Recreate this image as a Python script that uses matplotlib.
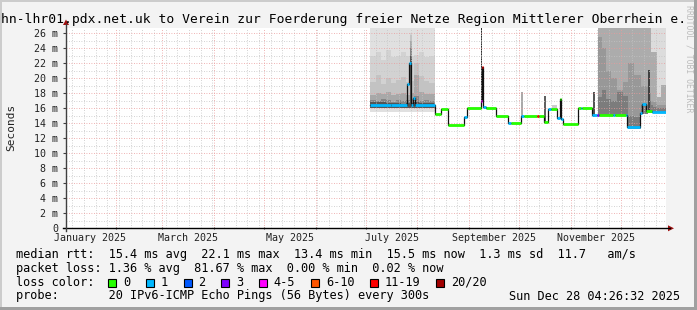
import numpy as np
import pandas as pd
import matplotlib
matplotlib.use("Agg")
import matplotlib.pyplot as plt
from matplotlib.lines import Line2D
from matplotlib.patches import Rectangle, Polygon

plt.rcParams["font.family"] = ["DejaVu Sans Mono"]

W, H = 697, 310

TITLE = "hn-lhr01.pdx.net.uk to Verein zur Foerderung freier Netze Region Mittlerer Oberrhein e."

# x is days after 2025-01-01, graph shows the last 360 days
START_DAY = 1.18
END_DAY = 361.18
Y_MAX = 26.7

LOSS_LABELS = ["0", "1", "2", "3", "4-5", "6-10", "11-19", "20/20"]
LOSS_COLORS = ["#26ff00", "#00b8ff", "#0059ff", "#7e00ff", "#ff00ff", "#ff5500", "#ff0000", "#a10000"]

# median rtt in ms, as steps (start day, value, loss bucket)
MED_DAYS = [183.6, 196.0, 206.0, 207.0, 208.0, 209.6, 210.6, 222.4, 226.0, 230.5,
            239.8, 242.0, 250.0, 250.7, 251.3, 253.0, 259.0, 266.2, 268.0, 274.0,
            276.0, 284.0, 284.8, 287.8, 290.2, 292.0, 296.0, 297.7, 298.4, 299.2,
            308.6, 310.0, 311.0, 317.0, 319.5, 320.8, 329.5, 330.5, 337.0, 338.0,
            345.5, 347.0, 349.0, 352.5, 353.0]
MED_MS = [16.5, 16.4, 19.2, 22.1, 16.4, 17.4, 16.4, 15.3, 15.9, 13.8,
          14.8, 16.1, 17.0, 21.5, 16.2, 16.1, 15.0, 14.0, 14.0, 15.0,
          15.0, 15.0, 15.0, 14.2, 15.9, 15.9, 14.7, 17.2, 14.6, 13.9,
          16.0, 16.0, 16.0, 15.1, 15.1, 15.1, 15.1, 15.1, 15.1, 13.5,
          15.4, 16.6, 15.6, 15.6, 15.5]
MED_LOSS = [1, 1, 1, 1, 1, 1, 1, 0, 0, 0,
            1, 0, 4, 6, 1, 0, 0, 1, 0, 1,
            0, 6, 0, 0, 1, 0, 1, 0, 1, 0,
            0, 1, 0, 1, 3, 0, 1, 0, 1, 1,
            1, 1, 0, 3, 1]

# smoke, first busy period (July/August): (bottom, top) per shade
SMOKE1_DAYS = [183.6, 187, 190, 193, 196, 199, 202, 205, 207.4, 208.6, 210, 213, 216, 219, 222.4]
SMOKE1_BANDS = [
    ([15.5] * 14, [26.7] * 14),
    ([16.0] * 14, [23.0, 23.5, 22.5, 23.8, 22.8, 23.0, 23.5, 23.0, 26.0, 23.0, 23.1, 23.5, 22.8, 23.0]),
    ([16.0] * 14, [19.5, 20.5, 19.2, 20.0, 19.4, 19.8, 20.2, 19.5, 25.8, 19.6, 22.0, 20.3, 19.6, 19.4]),
    ([16.0] * 14, [17.8, 18.0, 17.9, 18.2, 17.8, 17.9, 18.0, 17.8, 25.0, 18.0, 20.4, 18.2, 17.9, 17.9]),
    ([16.0] * 14, [17.1, 17.0, 17.2, 17.1, 16.9, 17.1, 17.0, 17.1, 24.0, 17.3, 17.6, 17.0, 17.1, 17.0]),
    ([16.1] * 14, [16.8, 16.8, 16.8, 16.7, 16.7, 16.7, 16.6, 16.7, 23.0, 16.7, 16.8, 16.7, 16.7, 16.7]),
]
SMOKE1_SHADES = ["#e0e0e0", "#d2d2d2", "#c3c3c3", "#a8a8a8", "#858585", "#555555"]

# smoke, second busy period (November/December)
SMOKE2_DAYS = [320.4, 322.6, 325.0, 328.0, 332.0, 335.2, 338.1, 341.7, 345.9, 350.1, 351.9, 353.1,
               355.5, 357.9, 361.18]
SMOKE2_BANDS = [
    ([15.0, 15.0, 15.0, 15.0, 15.0, 15.0, 13.3, 13.3, 15.2, 15.4, 15.4, 15.4, 15.4, 15.4], [26.7] * 14),
    ([15.0, 15.0, 15.0, 15.0, 15.0, 15.0, 13.3, 13.3, 15.2, 15.4, 15.4, 15.4, 15.4, 15.4],
     [26.7, 26.7, 26.7, 26.7, 26.7, 26.7, 26.7, 26.7, 26.7, 26.7, 23.5, 23.5, 17.5, 19.1]),
    ([15.0, 15.0, 15.0, 15.0, 15.0, 15.0, 13.3, 13.3, 15.2, 15.4, 15.4, 15.4, 15.4, 15.4],
     [25.5, 24.0, 21.0, 20.0, 18.5, 19.5, 22.0, 20.5, 19.0, 18.0, 17.0, 16.8, 16.5, 16.5]),
    ([15.1, 15.1, 15.1, 15.1, 15.1, 15.1, 13.4, 13.4, 15.3, 15.5, 15.5, 15.5, 15.5, 15.5],
     [17.5, 18.5, 17.3, 17.0, 18.2, 17.6, 15.0, 14.8, 16.4, 17.0, 16.5, 16.2, 16.0, 16.0]),
]
SMOKE2_SHADES = ["#dcdcdc", "#acacac", "#989898", "#7c7c7c"]

# single smoke spikes outside the busy periods
SPIKE_DAYS = [250.3, 274.8, 288.5, 294.5, 318.2, 351.0]
SPIKE_BASE = [16.1, 15.0, 14.2, 15.9, 14.9, 15.6]
SPIKE_TOPS = [26.7, 18.2, 17.6, 16.5, 18.2, 21.1]
SPIKE_WIDTHS = [0.8, 1.0, 0.8, 3.0, 1.2, 1.4]
SPIKE_SHADES = ["#303030", "#aaaaaa", "#606060", "#cccccc", "#555555", "#404040"]

RTT_STATS = ["15.4", "22.1", "13.4", "15.5"]
LOSS_STATS = ["1.36", "81.67", "0.00", "0.02"]
RTT_SD = "1.3"
AM_S = "11.7"
PROBE = "20 IPv6-ICMP Echo Pings (56 Bytes) every 300s"
STAMP = "Sun Dec 28 04:26:32 2025"


def fx(px):
    return px / W


def fy(py):
    return 1 - py / H


def draw_smoke(ax, days, bands, shades):
    x = np.asarray(days)
    for (low, top), shade in zip(bands, shades):
        y1 = np.append(low, low[-1])
        y2 = np.append(top, top[-1])
        ax.fill_between(x, y1, y2, step="post", color=shade, lw=0, zorder=2)


fig = plt.figure(figsize=(W / 100, H / 100), dpi=100)
fig.patch.set_facecolor("#f3f3f3")

# frame around the canvas
fig.add_artist(Rectangle((0, fy(2)), 1, 2 / H, transform=fig.transFigure, color="#cccccc", lw=0))
fig.add_artist(Rectangle((0, 0), fx(2), 1, transform=fig.transFigure, color="#cccccc", lw=0))
fig.add_artist(Rectangle((fx(694), 0), fx(3), 1, transform=fig.transFigure, color="#a0a0a0", lw=0))
fig.add_artist(Rectangle((0, 0), 1, 3 / H, transform=fig.transFigure, color="#a0a0a0", lw=0))

ax = fig.add_axes([fx(66), fy(228.3), fx(666) - fx(66), fy(28) - fy(228.3)])
ax.set_facecolor("white")
ax.set_xlim(START_DAY, END_DAY)
ax.set_ylim(0, Y_MAX)
for s in ax.spines.values():
    s.set_visible(False)

# grid: weekly (mondays) and 1 ms minor, months and 2 ms major
months = pd.date_range("2025-01-01", "2026-02-01", freq="MS")
month_days = np.array([(d - pd.Timestamp("2025-01-01")).days for d in months], dtype=float)
mondays = pd.date_range("2025-01-01", "2025-12-31", freq="W-MON")
monday_days = [(d - pd.Timestamp("2025-01-01")).days for d in mondays]

dots = (0, (1, 2))
for d in monday_days:
    if d not in month_days and START_DAY < d < END_DAY:
        ax.axvline(d, color="#c4c4c4", lw=0.6, ls=dots, zorder=3)
for v in range(1, 27, 2):
    ax.axhline(v, color="#c4c4c4", lw=0.6, ls=dots, zorder=3)
for d in month_days:
    if START_DAY < d < END_DAY:
        ax.axvline(d, color="#eb9a9a", lw=0.6, ls=dots, zorder=3)
for v in range(2, 27, 2):
    ax.axhline(v, color="#eb9a9a", lw=0.6, ls=dots, zorder=3)

draw_smoke(ax, SMOKE1_DAYS, SMOKE1_BANDS, SMOKE1_SHADES)
draw_smoke(ax, SMOKE2_DAYS, SMOKE2_BANDS, SMOKE2_SHADES)

spike_h = np.array(SPIKE_TOPS) - np.array(SPIKE_BASE)
ax.bar(SPIKE_DAYS, spike_h, bottom=SPIKE_BASE, width=SPIKE_WIDTHS, color=SPIKE_SHADES, lw=0, zorder=2.5)

# median: dark step line, then coloured by loss
days_ext = np.append(MED_DAYS, END_DAY)
ms_ext = np.append(MED_MS, MED_MS[-1])
ax.step(days_ext, ms_ext, where="post", color="#111111", lw=0.9, zorder=4)
for i in range(len(MED_DAYS)):
    ax.hlines(MED_MS[i], days_ext[i], days_ext[i + 1], color=LOSS_COLORS[MED_LOSS[i]], lw=2.0, zorder=5)

# ticks
ax.set_yticks(range(0, 27, 2))
ax.set_yticklabels(["0"] + ["%d m" % v for v in range(2, 27, 2)])
ax.tick_params(axis="y", length=2.5, width=0.8, color="#404040", pad=3, labelsize=7.2, labelcolor="#222222")
ax.set_xticks([d for d in month_days if START_DAY < d < END_DAY])
ax.set_xticklabels([])
ax.tick_params(axis="x", length=2, width=0.8, color="#404040", direction="inout")
mid = (month_days[:-1] + month_days[1:]) / 2
label_pos = [mid[i] for i in range(0, 12, 2)]
label_txt = [months[i].strftime("%B %Y") for i in range(0, 12, 2)]
ax.set_xticks(label_pos, minor=True)
ax.set_xticklabels(label_txt, minor=True)
ax.tick_params(axis="x", which="minor", length=0, pad=3.5, labelsize=7.2, labelcolor="#222222")

# axes with arrows
fig.add_artist(Line2D([fx(63), fx(670)], [fy(228.3), fy(228.3)], transform=fig.transFigure, color="black", lw=1.0))
fig.add_artist(Line2D([fx(66), fx(66)], [fy(231), fy(24)], transform=fig.transFigure, color="#404040", lw=1.0))
fig.add_artist(Polygon([[fx(668), fy(225.3)], [fx(674), fy(228.3)], [fx(668), fy(231.3)]],
                       transform=fig.transFigure, color="#a01010", lw=0))
fig.add_artist(Polygon([[fx(63), fy(25)], [fx(66), fy(19.5)], [fx(69), fy(25)]],
                       transform=fig.transFigure, color="#a01010", lw=0))

# texts
fig.text(fx(1), fy(23), TITLE, fontsize=9.4, va="baseline", ha="left", color="black")
fig.text(fx(11), fy(127), "Seconds", rotation=90, fontsize=8, ha="center", va="center", color="#222222")
fig.text(fx(689), fy(59), "RRDTOOL / TOBI OETIKER", rotation=270, fontsize=5.9, ha="center", va="center",
         color="#bdbdbd")

rtt_line = "median rtt:  %s ms avg  %s ms max  %s ms min  %s ms now  %s ms sd  %s   am/s" % (
    RTT_STATS[0], RTT_STATS[1], RTT_STATS[2], RTT_STATS[3], RTT_SD, AM_S)
loss_line = "packet loss: %s %% avg  %s %% max  %s %% min  %s %% now" % tuple(LOSS_STATS)
probe_line = "probe:       " + PROBE
leg = dict(fontsize=8.55, va="baseline", ha="left", color="black")
fig.text(fx(16), fy(257.7), rtt_line, **leg)
fig.text(fx(16), fy(271.7), loss_line, **leg)
fig.text(fx(16), fy(285.7), "loss color:", **leg)
fig.text(fx(16), fy(299.5), probe_line, **leg)
fig.text(fx(680), fy(299.5), STAMP, fontsize=8.55, va="baseline", ha="right", color="black")

bx = 108.3
for label, color in zip(LOSS_LABELS, LOSS_COLORS):
    fig.add_artist(Rectangle((fx(bx), fy(286.5)), fx(8), 8 / H, transform=fig.transFigure,
                             facecolor=color, edgecolor="black", lw=0.8))
    fig.text(fx(bx + 15), fy(285.7), label, **leg)
    bx += 15 + len(label) * 7.15 + 15.5

plt.savefig("out.png", dpi=100, facecolor=fig.get_facecolor())
